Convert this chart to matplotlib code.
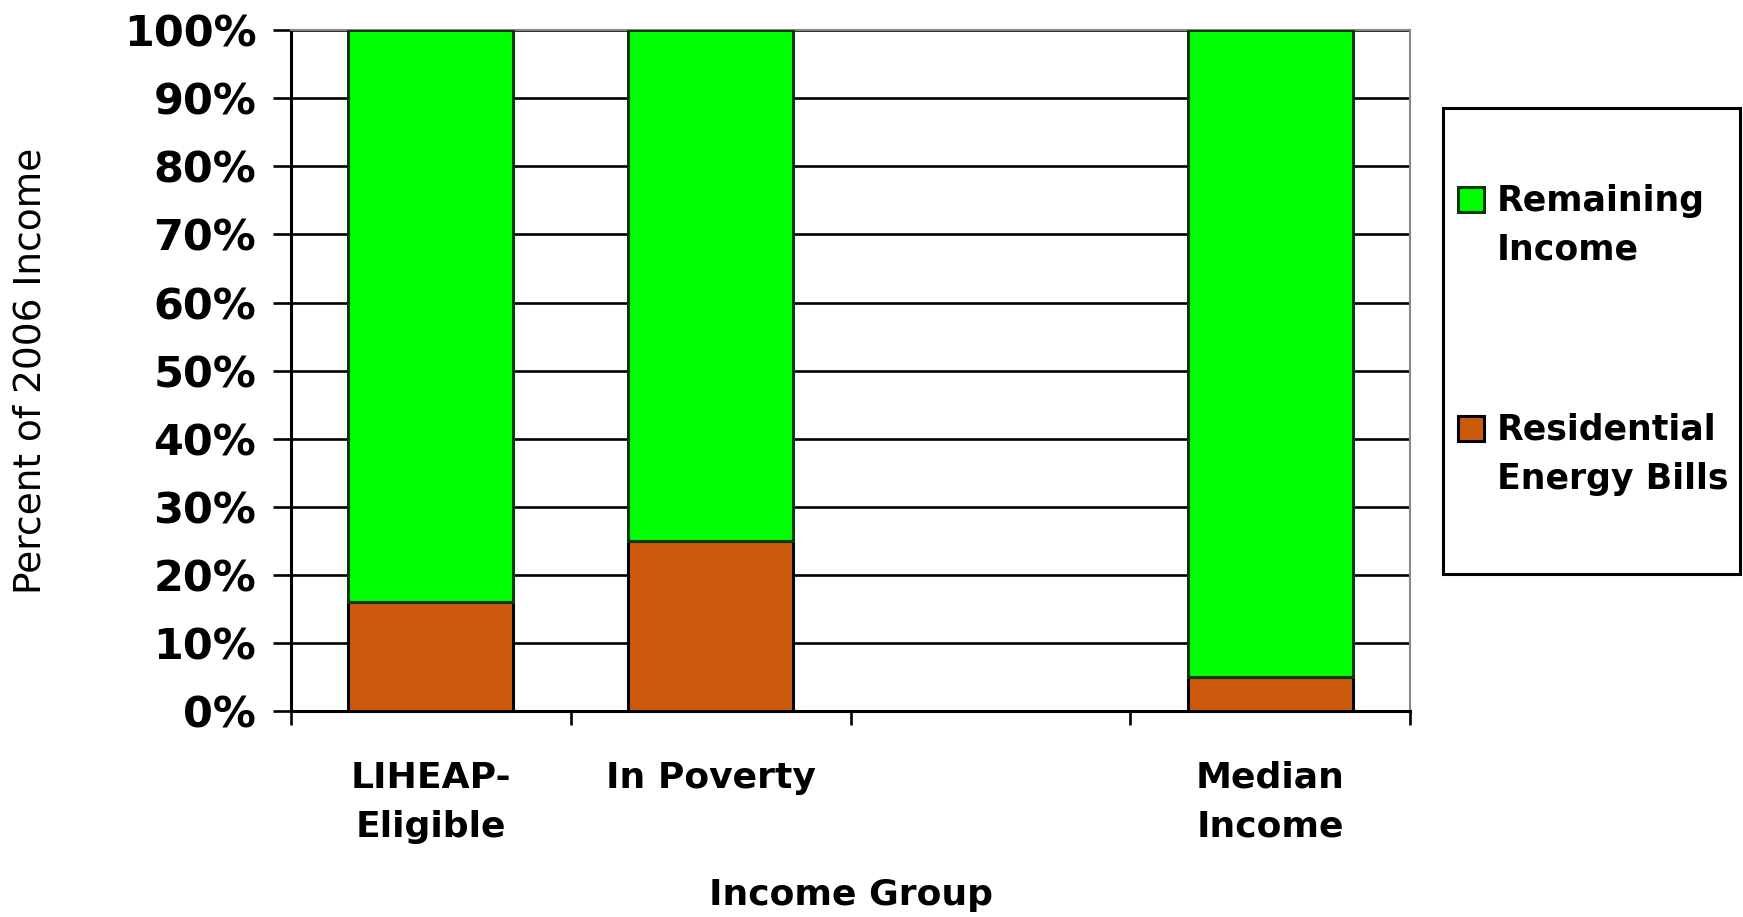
import matplotlib
matplotlib.use("Agg")
import matplotlib.pyplot as plt
from matplotlib.patches import Rectangle
import numpy as np

categories = ["LIHEAP-\nEligible", "In Poverty", "", "Median\nIncome"]
residential_energy = [16, 25, np.nan, 5]
remaining_income = [84, 75, np.nan, 95]
series_labels = ["Remaining\nIncome", "Residential\nEnergy Bills"]
y_ticks = [0, 10, 20, 30, 40, 50, 60, 70, 80, 90, 100]
y_tick_labels = [f"{v}%" for v in y_ticks]

GREEN = "#00FF00"
ORANGE = "#CC5A0C"

W, H = 1743, 917
fig = plt.figure(figsize=(W / 100, H / 100), dpi=100)
ax = fig.add_axes([0.167, 0.2247, 0.642, 0.7423])

x = np.arange(len(categories))
w = 0.59
ax.bar(x, residential_energy, w, color=ORANGE, edgecolor="black", linewidth=2.2, zorder=3)
ax.bar(x, remaining_income, w, bottom=residential_energy, color=GREEN,
       edgecolor="#0a3a0a", linewidth=2.2, zorder=3)

ax.set_xlim(-0.5, len(categories) - 0.5)
ax.set_ylim(0, 100)
ax.set_yticks(y_ticks)
ax.set_yticklabels(y_tick_labels, fontsize=31, fontweight="bold")
ax.yaxis.grid(True, color="black", linewidth=1.9, zorder=1)
ax.set_axisbelow(True)

ax.set_xticks(x)
ax.set_xticklabels(categories, fontsize=26, fontweight="bold", linespacing=1.55)
ax.tick_params(axis="x", which="major", length=0, pad=36)
ax.set_xticks(np.arange(-0.5, len(categories), 1.0), minor=True)
ax.tick_params(axis="x", which="minor", length=10, width=1.9, direction="out", color="black")
ax.tick_params(axis="y", which="major", length=13, width=1.9, direction="out", pad=12, color="black")

for s in ["left", "bottom"]:
    ax.spines[s].set_color("black")
    ax.spines[s].set_linewidth(2.2)
for s in ["top", "right"]:
    ax.spines[s].set_color("#888888")
    ax.spines[s].set_linewidth(1.5)

ax.set_ylabel("Percent of 2006 Income", fontsize=27)
ax.yaxis.label.set_va("center")
ax.yaxis.set_label_coords(-0.233, 0.5)
ax.set_xlabel("Income Group", fontsize=26, fontweight="bold")
ax.xaxis.label.set_va("center")
ax.xaxis.set_label_coords(0.5, -0.270)

# legend drawn as a framed box
def fx(px):
    return px / W

def fy(py):
    return 1 - py / H

fig.add_artist(Rectangle((fx(1443), fy(574)), fx(1740) - fx(1443), fy(108) - fy(574),
                         transform=fig.transFigure, facecolor="white",
                         edgecolor="black", linewidth=2.2))
legend_items = [(GREEN, "#0a3a0a", series_labels[0], 187),
                (ORANGE, "black", series_labels[1], 416)]
for fc, ec, lab, top in legend_items:
    fig.add_artist(Rectangle((fx(1458), fy(top + 25)), fx(26), 25 / H,
                             transform=fig.transFigure, facecolor=fc,
                             edgecolor=ec, linewidth=2.2))
    fig.text(fx(1497), fy(top - 3), lab, fontsize=25, fontweight="bold",
             va="top", ha="left", linespacing=1.55)

fig.savefig("out.png", dpi=100)
